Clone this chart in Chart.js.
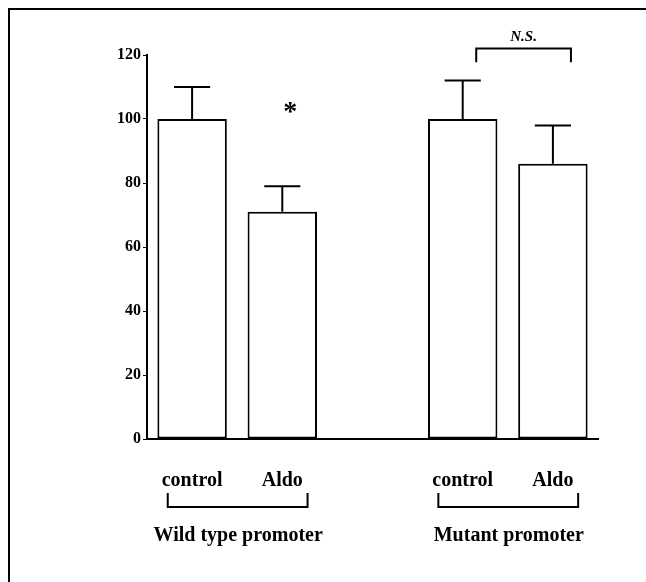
<!DOCTYPE html>
<html>
<head>
<meta charset="utf-8">
<script src="https://cdn.jsdelivr.net/npm/chart.js@4/dist/chart.umd.min.js"></script>
<style>
html,body{margin:0;padding:0;background:#fff;}
#wrap{width:646px;height:582px;position:relative;}
</style>
</head>
<body>
<div id="wrap"><canvas id="c" width="646" height="582"></canvas></div>
<script>
const categories = ['control', 'Aldo', '', 'control', 'Aldo'];
const values = [100, 71, null, 100, 86];
const errorTops = [110, 79, null, 112, 98];
const yTicks = [0, 20, 40, 60, 80, 100, 120];
const groups = ['Wild type promoter', 'Mutant promoter'];
const groupRanges = [[0, 1], [3, 4]];
const sigMark = { index: 1, value: 104, text: '*' };
const nsMark = { from: 3, to: 4, value: 122, text: 'N.S.' };

const SERIF = '"Liberation Serif", "Times New Roman", serif';

const overlay = {
  id: 'overlay',
  afterDraw(chart) {
    const ctx = chart.ctx;
    const x = chart.scales.x, y = chart.scales.y;
    const area = chart.chartArea;
    const meta = chart.getDatasetMeta(0);
    ctx.save();
    // frame (top and left lines)
    ctx.strokeStyle = '#000';
    ctx.lineWidth = 2;
    ctx.beginPath();
    ctx.moveTo(9, 582); ctx.lineTo(9, 9); ctx.lineTo(646, 9);
    ctx.stroke();
    // error bars
    ctx.lineWidth = 2;
    meta.data.forEach((bar, i) => {
      if (values[i] == null) return;
      const top = y.getPixelForValue(errorTops[i]);
      const base = y.getPixelForValue(values[i]);
      const half = bar.width * 0.26;
      ctx.beginPath();
      ctx.moveTo(bar.x, base); ctx.lineTo(bar.x, top);
      ctx.moveTo(bar.x - half, top); ctx.lineTo(bar.x + half, top);
      ctx.stroke();
    });
    // asterisk
    ctx.fillStyle = '#000';
    ctx.font = 'bold 28px ' + SERIF;
    ctx.textAlign = 'center';
    ctx.textBaseline = 'middle';
    ctx.fillText(sigMark.text, x.getPixelForValue(sigMark.index) + 8, y.getPixelForValue(sigMark.value) + 7);
    // N.S. bracket
    const nx1 = x.getPixelForValue(nsMark.from + 0.15);
    const nx2 = x.getPixelForValue(nsMark.to + 0.2);
    const ny = y.getPixelForValue(nsMark.value);
    const ny2 = y.getPixelForValue(nsMark.value - 4.3);
    ctx.beginPath();
    ctx.moveTo(nx1, ny2); ctx.lineTo(nx1, ny); ctx.lineTo(nx2, ny); ctx.lineTo(nx2, ny2);
    ctx.stroke();
    ctx.font = 'italic bold 15px ' + SERIF;
    ctx.fillText(nsMark.text, (nx1 + nx2) / 2, ny - 11);
    // group brackets and labels
    const by1 = area.bottom + 54, by2 = area.bottom + 68;
    groupRanges.forEach((r, gi) => {
      const c = (r[0] + r[1]) / 2;
      const gx1 = x.getPixelForValue(c - 0.77);
      const gx2 = x.getPixelForValue(c + 0.78);
      ctx.beginPath();
      ctx.moveTo(gx1, by1); ctx.lineTo(gx1, by2); ctx.lineTo(gx2, by2); ctx.lineTo(gx2, by1);
      ctx.stroke();
      ctx.font = 'bold 20px ' + SERIF;
      ctx.fillText(groups[gi], x.getPixelForValue(c) + 1, area.bottom + 97);
    });
    ctx.restore();
  }
};

new Chart(document.getElementById('c'), {
  type: 'bar',
  data: {
    labels: categories,
    datasets: [{
      data: values,
      backgroundColor: '#fff',
      borderColor: '#000',
      borderWidth: 2,
      borderSkipped: false,
      barPercentage: 0.77,
      categoryPercentage: 1.0
    }]
  },
  options: {
    responsive: false,
    animation: false,
    devicePixelRatio: 1,
    layout: { padding: { top: 55, right: 48, left: 0, bottom: 0 } },
    plugins: { legend: { display: false }, tooltip: { enabled: false } },
    scales: {
      x: {
        grid: { display: false },
        border: { display: true, color: '#000', width: 2 },
        ticks: { color: '#000', padding: 22, font: { family: SERIF, size: 20, weight: 'bold' }, maxRotation: 0, autoSkip: false },
        afterFit(s) { s.height = 143; }
      },
      y: {
        min: 0, max: 120,
        afterBuildTicks(s) { s.ticks = yTicks.map(v => ({ value: v })); },
        grid: { drawOnChartArea: false, drawTicks: true, tickLength: 4, color: '#000', lineWidth: 1 },
        border: { display: true, color: '#000', width: 2 },
        ticks: { color: '#000', padding: 2, font: { family: SERIF, size: 16, weight: 'bold' } },
        afterFit(s) { s.width = 147; }
      }
    }
  },
  plugins: [overlay]
});
</script>
</body>
</html>
